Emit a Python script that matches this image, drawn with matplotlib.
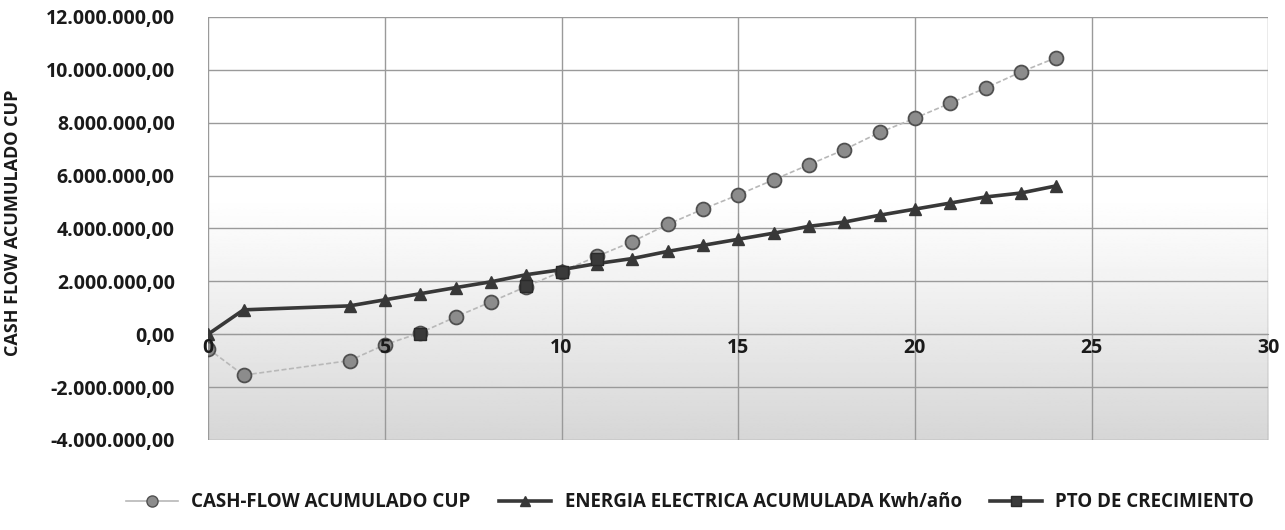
"""Cash-flow acumulado vs energia electrica acumulada."""

import matplotlib

matplotlib.use("Agg")

import matplotlib.pyplot as plt
import numpy as np
from matplotlib.lines import Line2D
from matplotlib.ticker import FuncFormatter, MultipleLocator

plt.rcParams["font.family"] = ["Open Sans", "DejaVu Sans"]

years = [0, 1, 4, 5, 6, 7, 8, 9, 10, 11, 12, 13, 14, 15, 16, 17, 18, 19, 20, 21, 22, 23, 24]
cash_flow = [-0.55, -1.55, -1.0, -0.4, 0.05, 0.65, 1.22, 1.8, 2.37, 2.94, 3.5, 4.15, 4.73,
             5.27, 5.84, 6.41, 6.98, 7.63, 8.17, 8.74, 9.31, 9.92, 10.46]
energia = [0.0, 0.92, 1.07, 1.3, 1.53, 1.76, 1.98, 2.25, 2.44, 2.67, 2.86, 3.13, 3.36,
           3.59, 3.82, 4.08, 4.24, 4.5, 4.73, 4.96, 5.19, 5.34, 5.61]
pto_years = [6, 9, 10, 11]
pto_values = [0.0, 1.83, 2.37, 2.86]

labels = ["CASH-FLOW ACUMULADO CUP", "ENERGIA ELECTRICA ACUMULADA Kwh/año", "PTO DE CRECIMIENTO"]


def es_fmt(v, _pos):
    s = f"{v * 1e6:,.2f}"
    return s.replace(",", "X").replace(".", ",").replace("X", ".")


fig = plt.figure(figsize=(12.85, 5.3), dpi=100)
ax = fig.add_axes([0.162, 0.170, 0.825, 0.798])

# plot-area gradient: light gray at the bottom fading to white toward the top
t = np.linspace(0, 1, 256)  # 0 = bottom, 1 = top
shade = 1.0 - 0.16 * np.clip((0.58 - t) / 0.58, 0, 1) ** 1.1
grad = np.repeat(shade[:, None], 2, axis=1)
ax.imshow(grad, extent=[0, 30, -4, 12], aspect="auto", cmap="gray", vmin=0, vmax=1,
          zorder=0, origin="lower")
ax.set_ylim(-4, 12)
ax.set_xlim(0, 30)

ax.xaxis.set_major_locator(MultipleLocator(5))
ax.yaxis.set_major_locator(MultipleLocator(2))
ax.yaxis.set_major_formatter(FuncFormatter(es_fmt))
ax.grid(True, color="#9a9a9a", lw=1.0, zorder=1)
ax.set_axisbelow(False)

ax.plot(years, cash_flow, color="#b8b8b8", lw=1.2, ls=(0, (3, 1.5)), marker="o", ms=10,
        mfc="#8c8c8c", mec="#505050", mew=1.3, zorder=3)
ax.plot(years, energia, color="#383838", lw=2.6, marker="^", ms=9, mfc="#383838",
        mec="#383838", zorder=4)
ax.plot(pto_years, pto_values, ls="none", marker="s", ms=9, mfc="#3a3a3a", mec="#2a2a2a",
        zorder=5)

for s in ["top", "right", "left"]:
    ax.spines[s].set_visible(False)
ax.spines["bottom"].set_position(("data", 0))
ax.spines["bottom"].set_color("#9a9a9a")
ax.tick_params(axis="both", length=0, labelsize=14, colors="#1a1a1a")
ax.tick_params(axis="y", pad=24)
ax.tick_params(axis="x", labelbottom=False)
for lab in ax.get_yticklabels():
    lab.set_fontweight("bold")

# x tick labels sit on the zero line and are drawn above the series
for xt in ax.get_xticks():
    if 0 <= xt <= 30:
        ax.annotate(f"{xt:g}", (xt, 0), xytext=(0, -3), textcoords="offset points",
                    ha="center", va="top", fontsize=14, fontweight="bold", color="#1a1a1a",
                    zorder=7, annotation_clip=False)

ax.set_ylabel("CASH FLOW ACUMULADO CUP", fontsize=13, fontweight="bold", color="#1a1a1a")
ax.yaxis.set_label_coords(-0.176, 0.513)

handles = [
    Line2D([], [], color="#b8b8b8", lw=1.2, marker="o", ms=8, mfc="#8c8c8c", mec="#505050"),
    Line2D([], [], color="#383838", lw=2.6, marker="^", ms=7, mfc="#383838", mec="#383838"),
    Line2D([], [], color="#383838", lw=2.6, marker="s", ms=7, mfc="#3a3a3a", mec="#2a2a2a"),
]
leg = fig.legend(handles, labels, loc="center", bbox_to_anchor=(0.537, 0.052), ncol=3,
                 frameon=False, handlelength=2.8, columnspacing=1.5, handletextpad=0.7,
                 prop={"weight": "bold", "size": 13.5})
for txt in leg.get_texts():
    txt.set_color("#1a1a1a")

fig.savefig("out.png", dpi=100)
